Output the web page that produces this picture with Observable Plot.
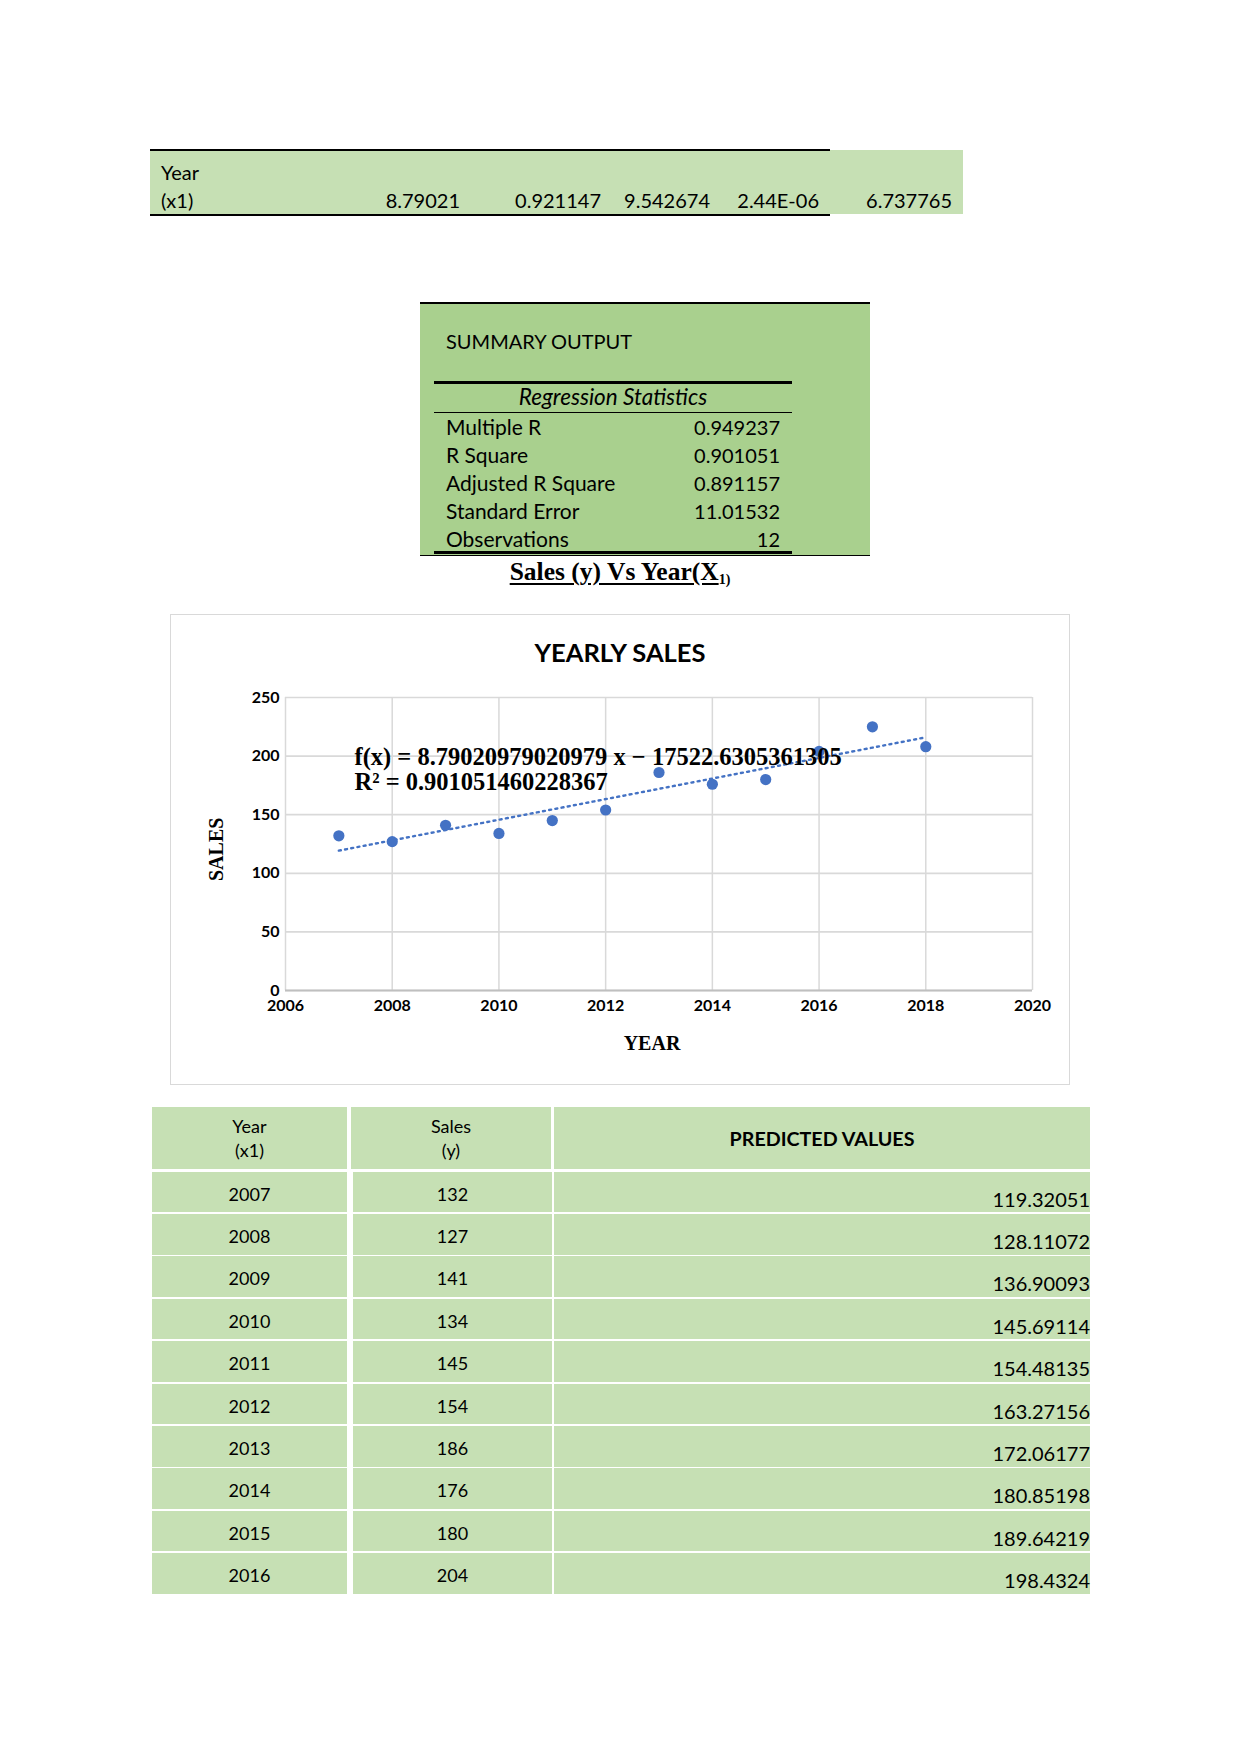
<!DOCTYPE html>
<html><head><meta charset="utf-8">
<script src="https://cdn.jsdelivr.net/npm/d3@7"></script>
<script src="https://cdn.jsdelivr.net/npm/@observablehq/plot@0.6"></script>
<style>
html,body{margin:0;padding:0;background:#fff;}
body{width:1241px;height:1754px;position:relative;font-family:Lato,"Noto Sans",sans-serif;color:#000;overflow:hidden;}
.a{position:absolute;white-space:nowrap;}
</style></head><body>
<script>
// ---------- data ----------
const years = [2007, 2008, 2009, 2010, 2011, 2012, 2013, 2014, 2015, 2016, 2017, 2018];
const sales = [132, 127, 141, 134, 145, 154, 186, 176, 180, 204, 225, 208];
const tableYears = [2007, 2008, 2009, 2010, 2011, 2012, 2013, 2014, 2015, 2016];
const tableSales = [132, 127, 141, 134, 145, 154, 186, 176, 180, 204];
const predicted = ["119.32051", "128.11072", "136.90093", "145.69114", "154.48135", "163.27156", "172.06177", "180.85198", "189.64219", "198.4324"];
const coefLabel = ["Year", "(x1)"];
const coefValues = ["8.79021", "0.921147", "9.542674", "2.44E-06", "6.737765"];
const statLabels = ["Multiple R", "R Square", "Adjusted R Square", "Standard Error", "Observations"];
const statValues = ["0.949237", "0.901051", "0.891157", "11.01532", "12"];
const xTicks = [2006, 2008, 2010, 2012, 2014, 2016, 2018, 2020];
const yTicks = [0, 50, 100, 150, 200, 250];
const equationLines = ["f(x) = 8.79020979020979 x − 17522.6305361305", "R² = 0.901051460228367"];

// ---------- helpers ----------
function box(l, t, w, h, bg, extra = "") {
  const d = document.createElement("div");
  d.className = "a";
  d.style.cssText = `left:${l}px;top:${t}px;width:${w}px;height:${h}px;background:${bg};${extra}`;
  document.body.appendChild(d);
  return d;
}
function txt(s, l, cy, w, align, size, extra = "") {
  const d = document.createElement("div");
  d.className = "a";
  const h = 30;
  d.style.cssText = `left:${l}px;top:${cy - h / 2}px;width:${w}px;height:${h}px;line-height:${h}px;text-align:${align};font-size:${size}px;${extra}`;
  d.innerHTML = s;
  document.body.appendChild(d);
  return d;
}

// ---------- top coefficient row ----------
const G1 = "#C6E0B4", G2 = "#A9D08E";
box(150, 150, 813, 64, G1);
box(150, 149, 680, 2, "#000");
box(150, 214, 680, 2, "#000");
txt(coefLabel[0], 161, 172, 100, "left", 20);
txt(coefLabel[1], 161, 200, 100, "left", 20);
const coefRight = [460, 601, 710, 819, 952];
coefValues.forEach((v, i) => txt(v, coefRight[i] - 150, 200, 150, "right", 20));

// ---------- summary output ----------
box(420, 303, 450, 252, G2);
box(420, 302, 450, 2, "#000");
box(420, 555, 450, 1, "#000");
txt("SUMMARY OUTPUT", 446, 341, 300, "left", 20);
box(434, 381, 358, 2.5, "#000");
txt("Regression Statistics", 434, 397, 358, "center", 22.5, "font-style:italic;");
box(434, 412, 358, 1, "#000");
statLabels.forEach((s, i) => {
  txt(s, 446, 427 + i * 28, 250, "left", 21);
  txt(statValues[i], 630, 427 + i * 28, 150, "right", 20);
});
box(434, 551, 358, 2.5, "#000");

// ---------- chart heading ----------
txt('<span style="text-decoration:underline;text-underline-offset:3px;">Sales (y) Vs Year(X<span style="font-size:14px;vertical-align:-4px;">1)</span></span>',
  420, 572, 400, "center", 25.5, "font-family:'Liberation Serif',serif;font-weight:bold;");

// chart frame + title
box(170, 614, 900, 471, "#fff", "box-sizing:border-box;border:1px solid #d9d9d9;");
txt("YEARLY SALES", 170, 652, 900, "center", 25.5, "font-weight:bold;");

const data = years.map((y, i) => ({year: y, sales: sales[i]}));
const blue = "#4472C4";
const serif = "'Liberation Serif', 'Times New Roman', serif";
const plot = Plot.plot({
  width: 900,
  height: 380,
  marginLeft: 115,
  marginRight: 38,
  marginTop: 17,
  marginBottom: 70,
  style: {fontFamily: "Lato, sans-serif", background: "transparent", color: "#000", overflow: "visible"},
  x: {domain: [2006, 2020]},
  y: {domain: [0, 250]},
  marks: [
    Plot.gridY(yTicks, {stroke: "#d9d9d9", strokeOpacity: 1, strokeWidth: 1.7}),
    Plot.gridX(xTicks, {stroke: "#d9d9d9", strokeOpacity: 1, strokeWidth: 1.5}),
    Plot.ruleY([0], {stroke: "#bfbfbf", strokeWidth: 2}),
    Plot.axisY(yTicks, {tickSize: 0, tickPadding: 6, fontSize: 16, fontWeight: "bold", label: null}),
    Plot.axisX(xTicks, {tickSize: 0, tickPadding: 9, fontSize: 16, fontWeight: "bold", tickFormat: "d", label: null}),
    Plot.linearRegressionY(data, {x: "year", y: "sales", ci: 0, stroke: blue, strokeWidth: 2.4, strokeDasharray: "2,4.3"}),
    Plot.dot(data, {x: "year", y: "sales", r: 5.6, fill: blue, stroke: "none"}),
    Plot.text([equationLines[0]], {frameAnchor: "top-left", textAnchor: "start", lineAnchor: "middle", dx: 69, dy: 60, fontSize: 24.5, fontWeight: "bold", fontFamily: serif, fill: "#000"}),
    Plot.text([equationLines[1]], {frameAnchor: "top-left", textAnchor: "start", lineAnchor: "middle", dx: 69, dy: 85, fontSize: 24.5, fontWeight: "bold", fontFamily: serif, fill: "#000"}),
    Plot.text(["YEAR"], {frameAnchor: "bottom", lineAnchor: "middle", dx: -7, dy: 53, fontSize: 20, fontWeight: "bold", fontFamily: serif, fill: "#000"}),
    Plot.text(["SALES"], {frameAnchor: "left", lineAnchor: "middle", rotate: -90, dx: -69, dy: 37, fontSize: 20, fontWeight: "bold", fontFamily: serif, fill: "#000"})
  ]
});
plot.style.position = "absolute";
plot.style.left = "170px";
plot.style.top = "680px";
document.body.appendChild(plot);

// ---------- bottom table ----------
const cols = [[152, 195], [351, 200], [554, 536]];
cols.forEach(([l, w]) => box(l, 1107, w, 62, G1));
txt("Year", cols[0][0], 1126, cols[0][1], "center", 18);
txt("(x1)", cols[0][0], 1150, cols[0][1], "center", 18);
txt("Sales", cols[1][0], 1126, cols[1][1], "center", 18);
txt("(y)", cols[1][0], 1150, cols[1][1], "center", 18);
txt("PREDICTED VALUES", cols[2][0], 1139, cols[2][1], "center", 19.7, "font-weight:bold;");
const rowCols = [[152, 195], [353, 199], [554, 536]];
tableYears.forEach((yr, i) => {
  const top = 1171.5 + i * 42.4;
  rowCols.forEach(([l, w]) => box(l, top, w, 40.8, G1));
  txt(String(yr), rowCols[0][0], top + 22, rowCols[0][1], "center", 18);
  txt(String(tableSales[i]), rowCols[1][0], top + 22, rowCols[1][1], "center", 18);
  txt(predicted[i], rowCols[2][0], top + 27, rowCols[2][1], "right", 20);
});
</script>
</body></html>
